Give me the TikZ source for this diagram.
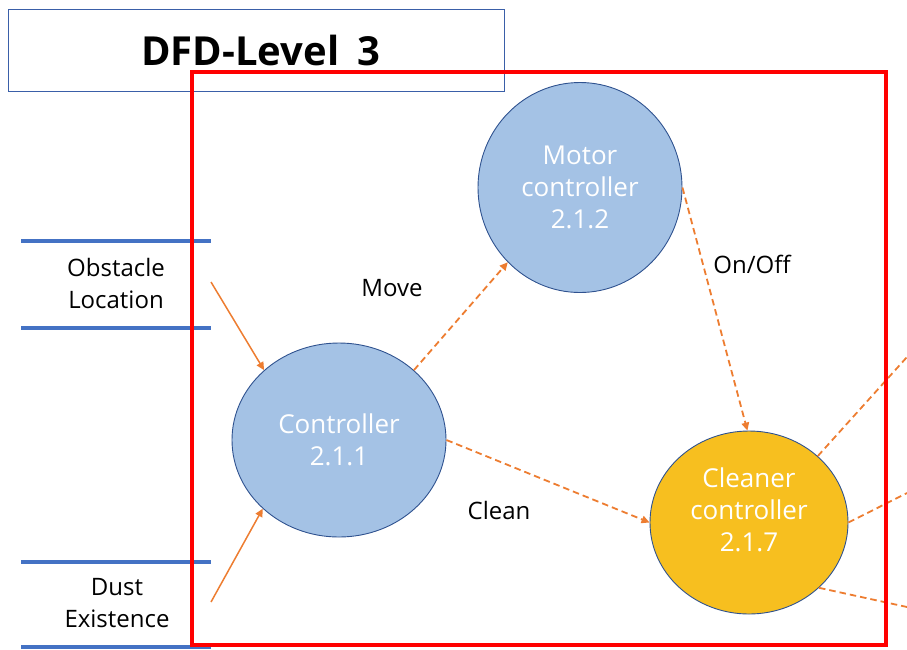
\documentclass[tikz,border=0pt]{standalone}
\usepackage{fontspec}
\setmainfont{Open Sans}
\usetikzlibrary{arrows.meta,shapes.geometric}

\definecolor{flow}{HTML}{ED7D31}
\definecolor{procfill}{HTML}{A4C2E5}
\definecolor{procline}{HTML}{2F528F}
\definecolor{hotfill}{HTML}{F7BF1F}
\definecolor{storeline}{HTML}{4472C4}
\definecolor{titleline}{HTML}{3A5FA8}
\definecolor{framered}{HTML}{FF0000}

\tikzset{
  proc/.style={ellipse, draw=procline, line width=0.9pt, fill=procfill, inner sep=0pt},
  proctext/.style={text=white, align=center, font=\fontsize{26}{32}\selectfont},
  storetext/.style={align=center, font=\fontsize{24}{32}\selectfont},
  flowlabel/.style={font=\fontsize{24}{30}\selectfont},
  storebar/.style={draw=storeline, line width=3.5pt},
  feed/.style={draw=flow, line width=1.5pt, -{Triangle[length=8pt,width=7.5pt]}},
  dflow/.style={draw=flow, line width=1.8pt, dash pattern=on 6.5pt off 4pt, -{Triangle[length=8pt,width=7.5pt]}},
  dout/.style={draw=flow, line width=1.8pt, dash pattern=on 6.5pt off 4pt}
}

\begin{document}
\begin{tikzpicture}[x=1pt,y=-1pt]
\useasboundingbox (0,0) rectangle (907,649);

% title box
\node[draw=titleline, line width=0.8pt, minimum width=496pt, minimum height=82pt, inner sep=0pt]
  (titlebox) at (256,50) {};
\node[font=\fontsize{40}{48}\selectfont\bfseries] (title) at (261,50) {DFD-Level\hspace{8pt} 3};

% data stores
\draw[storebar] (21,241) -- (211,241);
\draw[storebar] (21,328) -- (211,328);
\node[storetext] (obstacle) at (116,283) {Obstacle\\Location};
\coordinate (obsOut) at (211,282);

\draw[storebar] (21,562) -- (211,562);
\draw[storebar] (21,647) -- (211,647);
\node[storetext] (dust) at (117,603) {Dust\\Existence};
\coordinate (dustOut) at (211,602);

% processes
\node[proc, minimum width=204pt, minimum height=210pt] (motor) at (580,187.5) {};
\node[proctext] (motortext) at (motor.center) {Motor\\controller\\2.1.2};

\node[proc, minimum width=214pt, minimum height=194pt] (ctrl) at (339,440) {};
\node[proctext] (ctrltext) at (ctrl.center) {Controller\\2.1.1};

\node[proc, fill=hotfill, minimum width=198pt, minimum height=183pt] (cleaner) at (749,522.5) {};
\node[proctext] (cleanertext) at ([yshift=13pt]cleaner.center) {Cleaner\\controller\\2.1.7};

% flows
\draw[feed] (obsOut) -- (ctrl.137);
\draw[feed] (dustOut) -- (ctrl.222);
\draw[dflow] (ctrl.43) -- (motor.226);
\draw[dflow] (motor.0) -- (cleaner.91);
\draw[dflow] (ctrl.0) -- (cleaner.180);

\coordinate (outA) at (907,357);
\coordinate (outB) at (907,493);
\coordinate (outC) at (907,607);
\draw[dout] (cleaner.44) -- (outA);
\draw[dout] (cleaner.0) -- (outB);
\draw[dout] (cleaner.-43) -- (outC);

% flow labels
\node[flowlabel] (move) at (392,288) {Move};
\node[flowlabel] (onoff) at (752,264) {On/Off};
\node[flowlabel] (clean) at (499,510) {Clean};

% scope frame
\draw[draw=framered, line width=4pt] (192,72) rectangle (886,645);
\end{tikzpicture}
\end{document}
